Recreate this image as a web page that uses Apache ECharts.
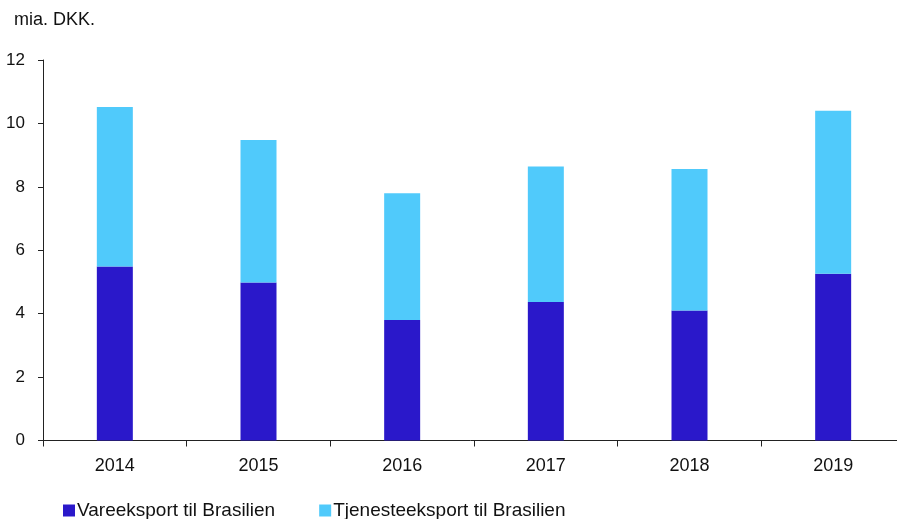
<!DOCTYPE html>
<html>
<head>
<meta charset="utf-8">
<script src="https://cdn.jsdelivr.net/npm/echarts@6/dist/echarts.min.js"></script>
<style>html,body{margin:0;padding:0;background:#fff;}#c{width:897px;height:519px;}</style>
</head>
<body>
<div id="c"></div>
<script>
const categories = ['2014', '2015', '2016', '2017', '2018', '2019'];
const goodsExport = [5.49, 4.98, 3.80, 4.37, 4.10, 5.26];
const serviceExport = [5.03, 4.50, 4.00, 4.27, 4.46, 5.14];
const yTicks = [0, 2, 4, 6, 8, 10, 12];

const chart = echarts.init(document.getElementById('c'));
const font = 'Liberation Sans, Arial, sans-serif';
chart.setOption({
  animation: false,
  textStyle: { fontFamily: font },
  title: {
    text: 'mia. DKK.', left: 9, top: 6,
    textStyle: { fontSize: 18, fontWeight: 'normal', color: '#111', fontFamily: font }
  },
  legend: {
    left: 58, top: 496, itemWidth: 12, itemHeight: 12, itemGap: 44,
    icon: 'rect',
    textStyle: { fontSize: 19, color: '#111', padding: [0, 0, 0, -3] },
    data: ['Vareeksport til Brasilien', 'Tjenesteeksport til Brasilien']
  },
  grid: { left: 43, top: 60, width: 862, height: 380.5, containLabel: false, outerBoundsMode: 'none' },
  xAxis: {
    type: 'category', data: categories,
    axisLine: { lineStyle: { color: '#222', width: 1 } },
    axisTick: { show: true, alignWithLabel: false, length: 6, lineStyle: { color: '#222' } },
    axisLabel: { fontSize: 18, color: '#111', margin: 17 }
  },
  yAxis: {
    type: 'value', min: 0, max: yTicks[yTicks.length - 1], interval: 2,
    splitLine: { show: false },
    axisLine: { show: true, lineStyle: { color: '#222', width: 1 } },
    axisTick: { show: true, length: 5, lineStyle: { color: '#222' } },
    axisLabel: { fontSize: 17, color: '#111', margin: 18 }
  },
  series: [
    {
      name: 'Vareeksport til Brasilien', type: 'bar', stack: 'total',
      barWidth: 36, data: goodsExport,
      itemStyle: { color: '#2A18CA' }
    },
    {
      name: 'Tjenesteeksport til Brasilien', type: 'bar', stack: 'total',
      barWidth: 36, data: serviceExport,
      itemStyle: { color: '#50CAFB' }
    }
  ]
});
</script>
</body>
</html>
